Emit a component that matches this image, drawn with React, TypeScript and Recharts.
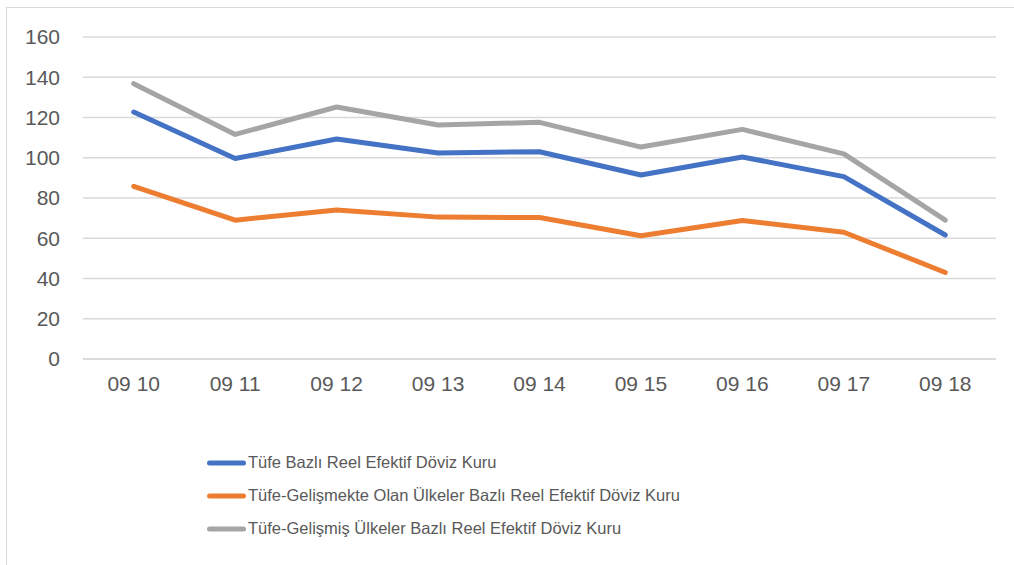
import React from 'react';
import { LineChart, Line, XAxis, YAxis, CartesianGrid, Legend } from 'recharts';

const categories = ['09 10', '09 11', '09 12', '09 13', '09 14', '09 15', '09 16', '09 17', '09 18'];
const tufeBazli = [122.7, 99.6, 109.3, 102.4, 103.0, 91.4, 100.4, 90.6, 61.6];
const gelismekteOlan = [85.8, 69.0, 74.0, 70.5, 70.3, 61.2, 68.8, 63.0, 43.0];
const gelismis = [136.8, 111.6, 125.2, 116.3, 117.6, 105.3, 114.1, 101.9, 69.0];
const yTicks = [0, 20, 40, 60, 80, 100, 120, 140, 160];
const seriesNames = [
  'Tüfe Bazlı Reel Efektif Döviz Kuru',
  'Tüfe-Gelişmekte Olan Ülkeler Bazlı Reel Efektif Döviz Kuru',
  'Tüfe-Gelişmiş Ülkeler Bazlı Reel Efektif Döviz Kuru',
];
const colors = ['#4472C4', '#ED7D31', '#A5A5A5'];

const data = categories.map((name, i) => ({
  name,
  tufe: tufeBazli[i],
  gelismekte: gelismekteOlan[i],
  gelismis: gelismis[i],
}));

const FONT = '"Liberation Sans", Arial, sans-serif';

const renderLegend = (props: any) => {
  const { payload } = props;
  return (
    <div style={{ fontFamily: FONT, fontSize: 16.5, color: '#595959' }}>
      {(payload || []).map((entry: any, i: number) => (
        <div key={i} style={{ display: 'flex', alignItems: 'center', height: 33, whiteSpace: 'nowrap' }}>
          <svg width={43} height={10} style={{ display: 'block' }}>
            <line x1={4.5} y1={5} x2={38.5} y2={5} stroke={entry.color} strokeWidth={5} strokeLinecap="round" />
          </svg>
          <span>{entry.value}</span>
        </div>
      ))}
    </div>
  );
};

export default function App() {
  return (
    <div
      style={{
        position: 'absolute',
        left: 6,
        top: 7,
        width: 1008,
        height: 558,
        borderTop: '1px solid #d9d9d9',
        borderLeft: '1px solid #d9d9d9',
        background: '#fff',
      }}
    >
      <LineChart
        width={1007}
        height={557}
        data={data}
        margin={{ top: 29, right: 18, left: 16, bottom: 77 }}
      >
        <CartesianGrid vertical={false} stroke="#d9d9d9" strokeWidth={1.5} />
        <XAxis
          dataKey="name"
          scale="band"
          axisLine={{ stroke: '#d9d9d9', strokeWidth: 1.5 }}
          tickLine={false}
          tickMargin={11}
          tick={{ fill: '#595959', fontSize: 21, fontFamily: FONT }}
        />
        <YAxis
          width={60}
          domain={[0, 160]}
          ticks={yTicks}
          axisLine={false}
          tickLine={false}
          tickMargin={17}
          tick={{ fill: '#595959', fontSize: 21, fontFamily: FONT }}
        />
        <Legend
          verticalAlign="bottom"
          content={renderLegend}
          wrapperStyle={{ left: 198, top: 438, width: 700 }}
        />
        <Line type="linear" dataKey="tufe" name={seriesNames[0]} stroke={colors[0]} strokeWidth={5} dot={false} strokeLinejoin="round" strokeLinecap="round" isAnimationActive={false} />
        <Line type="linear" dataKey="gelismekte" name={seriesNames[1]} stroke={colors[1]} strokeWidth={5} dot={false} strokeLinejoin="round" strokeLinecap="round" isAnimationActive={false} />
        <Line type="linear" dataKey="gelismis" name={seriesNames[2]} stroke={colors[2]} strokeWidth={5} dot={false} strokeLinejoin="round" strokeLinecap="round" isAnimationActive={false} />
      </LineChart>
    </div>
  );
}
